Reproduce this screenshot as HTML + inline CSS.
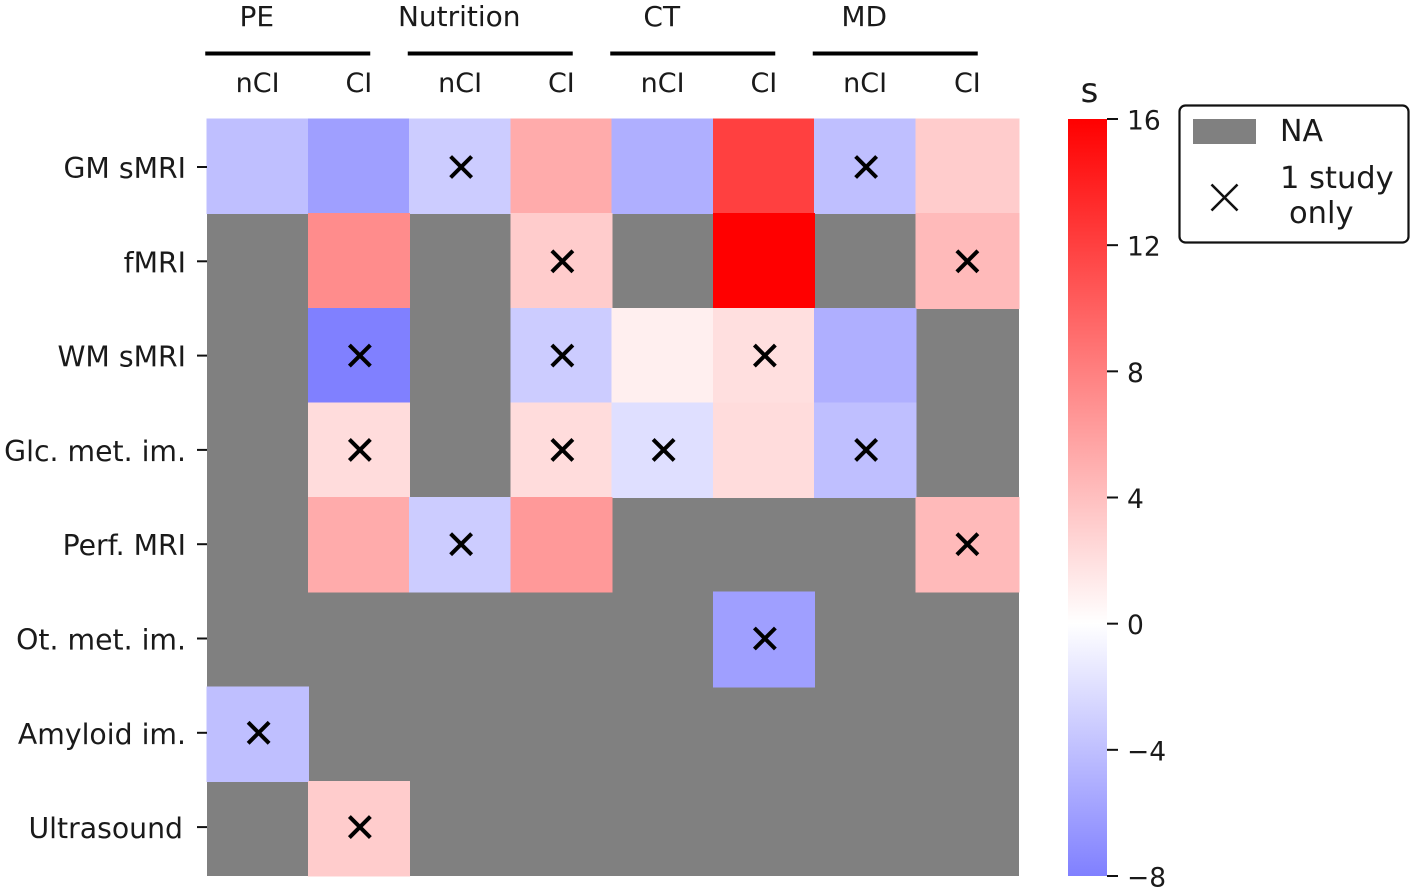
<!DOCTYPE html>
<html>
<head>
<meta charset="utf-8">
<title>Heatmap of effect sizes</title>
<style>
html,body{margin:0;padding:0;background:#fff;width:1417px;height:892px;overflow:hidden}
svg{display:block}
text{font-family:"DejaVu Sans","Liberation Sans",sans-serif;fill:#1a1a1a;font-size:27px}
</style>
</head>
<body>
<svg id="chart" xmlns="http://www.w3.org/2000/svg" width="1417" height="892" viewBox="0 0 1417 892">
  <defs>
    <linearGradient id="cbar-gradient" x1="0" y1="1" x2="0" y2="0"></linearGradient>
  </defs>
  <g id="plot"></g>
  <g id="header"></g>
  <g id="yaxis"></g>
  <g id="cbar"></g>
  <g id="legend">
    <rect x="1179.500" y="105.500" width="229" height="137" rx="6" ry="6" fill="#fff" stroke="#111" stroke-width="2.2"></rect>
    <rect x="1193" y="119" width="63" height="25" fill="#808080"></rect>
    <text x="1280" y="141" style="font-size:30px">NA</text>
    <path d="M1211.500 184.500L1237.500 210.500M1237.500 184.500L1211.500 210.500" stroke="#111" stroke-width="2.6" fill="none"></path>
    <text x="1280" y="188" style="font-size:30.500px">1 study</text>
    <text x="1289" y="223" style="font-size:30.500px">only</text>
  </g>
</svg>
<script>
const rowLabels = ["GM sMRI", "fMRI", "WM sMRI", "Glc. met. im.", "Perf. MRI", "Ot. met. im.", "Amyloid im.", "Ultrasound"];
const groupLabels = ["PE", "Nutrition", "CT", "MD"];
const subLabels = ["nCI", "CI"];
const row0Values = [-4, -6, -3.2, 5.3, -5, 12, -4, 3.2];
const row1Values = [null, 7.2, null, 3.2, null, 16, null, 4.3];
const row2Values = [null, -8, null, -3.2, 1, 2, -5, null];
const row3Values = [null, 2.2, null, 2.2, -2, 2.2, -4, null];
const row4Values = [null, 5.3, -3.2, 6.4, null, null, null, 4.3];
const row5Values = [null, null, null, null, null, -6, null, null];
const row6Values = [-4, null, null, null, null, null, null, null];
const row7Values = [null, 3.2, null, null, null, null, null, null];
const row0Single = [0, 0, 1, 0, 0, 0, 1, 0];
const row1Single = [0, 0, 0, 1, 0, 0, 0, 1];
const row2Single = [0, 1, 0, 1, 0, 1, 0, 0];
const row3Single = [0, 1, 0, 1, 1, 0, 1, 0];
const row4Single = [0, 0, 1, 0, 0, 0, 0, 1];
const row5Single = [0, 0, 0, 0, 0, 1, 0, 0];
const row6Single = [1, 0, 0, 0, 0, 0, 0, 0];
const row7Single = [0, 1, 0, 0, 0, 0, 0, 0];
const colorbarTicks = [16, 12, 8, 4, 0, -4, -8];

const values = [row0Values, row1Values, row2Values, row3Values, row4Values, row5Values, row6Values, row7Values];
const singles = [row0Single, row1Single, row2Single, row3Single, row4Single, row5Single, row6Single, row7Single];

const NS = "http://www.w3.org/2000/svg";
const plotLeft = 207, plotRight = 1019, plotTop = 119, plotBottom = 876;
const nCols = row0Values.length, nRows = rowLabels.length;
const stepX = 101.25;
const stepY = (plotBottom - plotTop) / nRows;
const xScale = i => i >= nCols ? plotRight : plotLeft + i * stepX;
const yScale = j => plotTop + j * stepY;
const markX = i => plotLeft + i * stepX + stepX / 2 + 1;
const markY = j => 167 + j * 94.3;
const cbarY = v => plotBottom - (v - colorbarTicks[colorbarTicks.length - 1]) / (colorbarTicks[0] - colorbarTicks[colorbarTicks.length - 1]) * (plotBottom - plotTop);

function colorOf(v) {
  const t = Math.min(1, Math.abs(v) / 16);
  const c = Math.round(255 * (1 - t));
  return v >= 0 ? `rgb(255,${c},${c})` : `rgb(${c},${c},255)`;
}
function mk(tag, attrs, parent) {
  const el = document.createElementNS(NS, tag);
  for (const k in attrs) el.setAttribute(k, attrs[k]);
  parent.appendChild(el);
  return el;
}

const plot = document.getElementById("plot");
const header = document.getElementById("header");
const yaxis = document.getElementById("yaxis");
const cbar = document.getElementById("cbar");
const grad = document.getElementById("cbar-gradient");

/* NA cells first, coloured cells on top of them */
for (let j = 0; j < nRows; j++) {
  for (let i = 0; i < nCols; i++) {
    if (values[j][i] !== null) continue;
    const r = mk("rect", {x: xScale(i), y: yScale(j), width: xScale(i + 1) - xScale(i), height: stepY, fill: "#808080", "shape-rendering": "crispEdges"}, plot);
    
    
  }
}
for (let j = 0; j < nRows; j++) {
  for (let i = 0; i < nCols; i++) {
    if (values[j][i] === null) continue;
    const r = mk("rect", {x: xScale(i) - 0.5, y: yScale(j) - 0.5, width: xScale(i + 1) - xScale(i) + 1, height: stepY + 1, fill: colorOf(values[j][i]), "shape-rendering": "crispEdges"}, plot);
    
    
  }
}
/* one-study markers */
for (let j = 0; j < nRows; j++) {
  for (let i = 0; i < nCols; i++) {
    if (!singles[j][i]) continue;
    const cx = markX(i), cy = markY(j), h = 10.5;
    const m = mk("path", {d: `M${cx - h} ${cy - h}L${cx + h} ${cy + h}M${cx + h} ${cy - h}L${cx - h} ${cy + h}`, stroke: "#000", "stroke-width": 4, fill: "none"}, plot);
    
    
  }
}
/* row labels and ticks */
rowLabels.forEach((lab, j) => {
  const y = markY(j);
  const t = mk("line", {x1: 197, x2: 207, y1: y, y2: y, stroke: "#111", "stroke-width": 2}, yaxis);
  
  
  const tx = mk("text", {x: lab === "Ultrasound" ? 183 : 186, y: y + 11, "text-anchor": "end", style: "font-size:28.3px"}, yaxis);
  tx.textContent = lab;
  
  
});
/* column group headers */
groupLabels.forEach((lab, g) => {
  const cx = xScale(2 * g + 1);
  const l = mk("line", {x1: cx - 103, x2: cx + 62, y1: 53.5, y2: 53.5, stroke: "#000", "stroke-width": 4}, header);
  
  
  const t = mk("text", {x: cx - 51.5, y: 26, "text-anchor": "middle", style: "font-size:28px"}, header);
  t.textContent = lab;
  
  
  subLabels.forEach((s, k) => {
    const col = 2 * g + k;
    const st = mk("text", {x: (xScale(col) + xScale(col + 1)) / 2, y: 92, "text-anchor": "middle"}, header);
    st.textContent = s;
    
    
  });
});
/* colorbar */
const cbMin = colorbarTicks[colorbarTicks.length - 1], cbMax = colorbarTicks[0];
[cbMin, 0, cbMax].forEach(v => {
  mk("stop", {offset: (v - cbMin) / (cbMax - cbMin), "stop-color": colorOf(v)}, grad);
});
const bar = mk("rect", {x: 1068, y: plotTop, width: 39, height: plotBottom - plotTop, fill: "url(#cbar-gradient)"}, cbar);


colorbarTicks.forEach(v => {
  const y = cbarY(v);
  const t = mk("line", {x1: 1107, x2: 1118, y1: y, y2: y, stroke: "#111", "stroke-width": 2}, cbar);
  
  
  const tx = mk("text", {x: 1127, y: y + 10.5, style: "font-size:26.5px"}, cbar);
  tx.textContent = v < 0 ? "\u2212" + Math.abs(v) : String(v);
  
  
});
const ct = mk("text", {x: 1089.5, y: 102, "text-anchor": "middle", style: "font-size:34px"}, cbar);
ct.textContent = "s";


</script>
</body>
</html>
